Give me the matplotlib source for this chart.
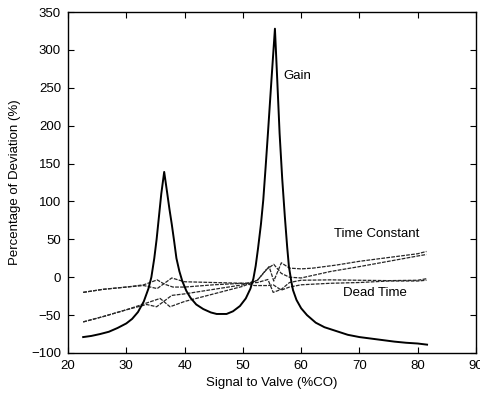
import numpy as np
import matplotlib.pyplot as plt

plt.rcParams['font.family'] = ['Liberation Sans', 'DejaVu Sans']
plt.rcParams['font.size'] = 9.5

# Gain deviation (solid)
gain_x = [22.6, 24, 25.5, 27, 28.5, 30, 31, 32, 33, 33.8, 34.3, 34.8, 35.2, 35.6,
          36, 36.5, 37, 37.4, 37.8, 38.2, 38.6, 39.1, 39.6, 40.3, 41, 42, 43.2,
          44.5, 45.5, 47.2, 48.3, 49.5, 50.5, 51.3, 51.8, 52.2, 52.6, 53.1, 53.5,
          53.9, 54.3, 54.9, 55.5, 55.9, 56.3, 56.75, 57.2, 57.6, 57.9, 58.3, 58.6,
          59.2, 60, 61, 62.5, 64, 66, 68, 70, 72, 74, 76, 78, 80, 81.6]
gain_y = [-79, -77.5, -75, -72, -67, -61, -55, -46, -32, -15, 0, 25, 50, 80,
          110, 139, 112, 90, 70, 48, 25, 8, -5, -18, -27, -36, -42,
          -46.5, -48.5, -48.5, -45, -38, -28, -15, -2, 15, 38, 70, 102,
          145, 190, 260, 328, 260, 190, 130, 80, 40, 14, -5, -17,
          -30, -41, -50, -60, -66, -71, -76, -79, -81, -83, -85, -86.5, -87.5, -89]

# Time constant deviation (two dashed bounds)
tc1_x = [22.6, 26, 30, 33.5, 35.8, 37.5, 40, 45, 50, 52.5, 54.5, 55.3, 56.6, 58,
         60, 62, 66, 70, 75, 80, 81.5]
tc1_y = [-59, -52, -43, -34, -28, -39, -32, -22, -12, -4, 14, -5, 19, 12,
         11, 12, 16, 21, 26, 31, 34]
tc2_x = [22.6, 26, 30, 33.5, 35.2, 37.8, 40, 45, 50, 52.5, 54, 55.3, 56.6, 58,
         60, 65, 70, 75, 80, 81.5]
tc2_y = [-59, -52, -43, -36, -39, -24, -22, -16, -10, -4, 10, 17, 5, 0,
         -1, 7.5, 14, 21, 28, 30]

# Dead time deviation (two dashed bounds)
dt1_x = [22.6, 26, 30, 33, 35.3, 36.5, 38, 40, 45, 50, 52.5, 54.3, 55.2, 56.6,
         58, 60, 65, 70, 75, 80, 81.5]
dt1_y = [-20, -16, -13, -10, -3.5, -9, -13, -13, -10, -8, -7, -3, -20, -16,
         -7, -4, -3.5, -4, -4.5, -4, -2]
dt2_x = [22.6, 26, 30, 33, 35.3, 37.8, 40, 45, 50, 52, 54.3, 55.2, 56.6, 58,
         60, 65, 70, 75, 80, 81.5]
dt2_y = [-20, -16, -13, -11, -15, -1, -6, -7, -8, -11, -11, -10, -17, -13,
         -10, -8, -7, -5, -5, -4]

fig = plt.figure(figsize=(4.8, 3.98), dpi=100)
ax = fig.add_axes([0.1417, 0.1131, 0.85, 0.8567])

dash = (0, (3, 1))
for xs, ys in [(tc1_x, tc1_y), (tc2_x, tc2_y), (dt1_x, dt1_y), (dt2_x, dt2_y)]:
    ax.plot(xs, ys, color='0.15', lw=0.9, linestyle=dash)
ax.plot(gain_x, gain_y, color='black', lw=1.4)

ax.text(56.9, 265, 'Gain', ha='left', va='center')
ax.text(65.6, 57, 'Time Constant', ha='left', va='center')
ax.text(67.2, -21, 'Dead Time', ha='left', va='center')

ax.set_xlim(20, 90)
ax.set_ylim(-100, 350)
ax.set_xticks(np.arange(20, 91, 10))
ax.set_yticks(np.arange(-100, 351, 50))
ax.tick_params(direction='in', top=True, right=True, length=4, width=0.8, pad=5,
               labelsize=9.5)
for s in ax.spines.values():
    s.set_linewidth(1.0)

ax.set_xlabel('Signal to Valve (%CO)', fontsize=9.5, labelpad=4)
ax.set_ylabel('Percentage of Deviation (%)', fontsize=9.5, labelpad=7)

fig.savefig('out.png', dpi=100)
